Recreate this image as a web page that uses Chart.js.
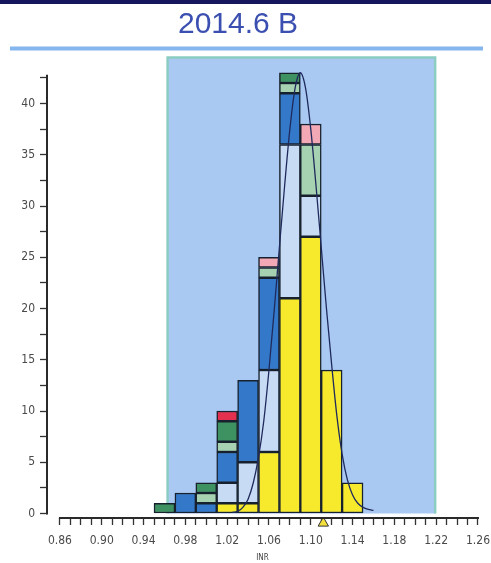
<!DOCTYPE html>
<html>
<head>
<meta charset="utf-8">
<title>2014.6 B</title>
<script src="https://cdn.jsdelivr.net/npm/chart.js@4.4.1/dist/chart.umd.min.js"></script>
<style>
  html, body { margin: 0; padding: 0; background: #ffffff; }
  #box { width: 491px; height: 563px; }
  canvas { display: block; }
</style>
</head>
<body>
<div id="box"><canvas id="chart" width="491" height="563"></canvas></div>
<script>
// ---------- data ----------
const chartTitle = '2014.6 B';
const xAxisTitle = 'INR';
const binCenters       = [0.96, 0.98, 1.00, 1.02, 1.04, 1.06, 1.08, 1.10, 1.12, 1.14];
const yellowCounts     = [0, 0, 0, 1, 1, 6, 21, 27, 14, 3];
const lightBlueCounts  = [0, 0, 0, 2, 4, 8, 15, 4, 0, 0];
const blueCounts       = [0, 2, 1, 3, 8, 9, 5, 0, 0, 0];
const lightGreenCounts = [0, 0, 1, 1, 0, 1, 1, 5, 0, 0];
const greenCounts      = [1, 0, 1, 2, 0, 0, 1, 0, 0, 0];
const pinkCounts       = [0, 0, 0, 0, 0, 1, 0, 2, 0, 0];
const redCounts        = [0, 0, 0, 1, 0, 0, 0, 0, 0, 0];
const curveX = [1.025, 1.030, 1.035, 1.040, 1.045, 1.050, 1.055, 1.060, 1.065, 1.070,
                1.075, 1.080, 1.085, 1.090, 1.095, 1.100, 1.105, 1.110, 1.115, 1.120,
                1.125, 1.130, 1.135, 1.140, 1.145, 1.150, 1.155, 1.160];
const curveY = [0.1, 0.2, 0.6, 1.4, 3.0, 5.5, 9.0, 14.0, 19.8, 26.0,
                32.0, 37.5, 41.5, 43.0, 41.5, 37.5, 32.0, 26.0, 20.0, 14.5,
                9.5, 5.8, 3.3, 1.8, 1.0, 0.6, 0.4, 0.3];
const referenceRange = [0.963, 1.219];
const meanMarker = [1.112];
const xTickLabels = ['0.86', '0.90', '0.94', '0.98', '1.02', '1.06', '1.10', '1.14', '1.18', '1.22', '1.26'];
const yTickLabels = ['0', '5', '10', '15', '20', '25', '30', '35', '40'];
const yAxisEnd = 42.8;

// ---------- helpers ----------
const xMajor = xTickLabels.map(Number);
const xTickValues = [];
for (let i = 0; i < xMajor.length; i++) {
  xTickValues.push(xMajor[i]);
  if (i < xMajor.length - 1) {
    const st = (xMajor[i + 1] - xMajor[i]) / 4;
    for (let k = 1; k < 4; k++) xTickValues.push(+(xMajor[i] + k * st).toFixed(4));
  }
}
const yTickValues = [];
yTickLabels.map(Number).forEach(v => {
  yTickValues.push(v);
  if (v + 2.5 <= yAxisEnd) yTickValues.push(v + 2.5);
});

const X_MIN = 0.8476, X_MAX = 1.26, Y_MIN = -0.439, Y_MAX = 44.49;
const tickFamily = "'Liberation Sans Narrow','DejaVu Sans Condensed','Liberation Sans',sans-serif";

function toPoints(counts) {
  return binCenters.map((c, i) => ({ x: c, y: counts[i] > 0 ? counts[i] : null }));
}
function barSet(label, counts, color) {
  return {
    type: 'bar', label, data: toPoints(counts), xAxisID: 'xb', yAxisID: 'y', stack: 'hist',
    backgroundColor: color, borderColor: '#17212d', borderWidth: 1.5, borderSkipped: false,
    barPercentage: 1, categoryPercentage: 1, grouped: false, order: 2
  };
}

const decorPlugin = {
  id: 'decor',
  beforeDraw(chart) {
    const { ctx, chartArea: ca, scales } = chart;
    const x = scales.x, y = scales.y;
    ctx.save();
    ctx.fillStyle = '#ffffff'; ctx.fillRect(0, 0, chart.width, chart.height);
    ctx.fillStyle = '#16165c'; ctx.fillRect(0, 0, chart.width, 4);
    ctx.fillStyle = '#86b6ee'; ctx.fillRect(10, 46.5, 473, 4);
    ctx.fillStyle = '#3b4fb0';
    ctx.font = "30px 'Liberation Sans', Arial, sans-serif";
    ctx.textAlign = 'center'; ctx.textBaseline = 'middle';
    ctx.fillText(chartTitle, 238, 25);
    const l = x.getPixelForValue(referenceRange[0]);
    const r = x.getPixelForValue(referenceRange[1]);
    const b = y.getPixelForValue(0);
    const t = ca.top;
    ctx.fillStyle = '#a9c9f3'; ctx.fillRect(l, t, r - l, b - t);
    ctx.strokeStyle = '#8ccdc2'; ctx.lineWidth = 2.5;
    ctx.beginPath(); ctx.moveTo(l, b); ctx.lineTo(l, t); ctx.lineTo(r, t); ctx.lineTo(r, b); ctx.stroke();
    ctx.restore();
  },
  afterDraw(chart) {
    const { ctx, chartArea: ca, scales } = chart;
    const x = scales.x, y = scales.y;
    ctx.save();
    ctx.strokeStyle = '#2a2a2a'; ctx.lineWidth = 2;
    ctx.beginPath();
    ctx.moveTo(ca.left, y.getPixelForValue(0) + 1);
    ctx.lineTo(ca.left, y.getPixelForValue(yAxisEnd));
    ctx.stroke();
    ctx.beginPath();
    ctx.moveTo(x.getPixelForValue(xMajor[0]) - 1, ca.bottom);
    ctx.lineTo(x.getPixelForValue(xMajor[xMajor.length - 1]) + 1, ca.bottom);
    ctx.stroke();
    ctx.restore();
  }
};

new Chart(document.getElementById('chart'), {
  data: {
    datasets: [
      barSet('yellow', yellowCounts, '#f7ea2c'),
      barSet('light blue', lightBlueCounts, '#c8dbf4'),
      barSet('blue', blueCounts, '#3479c9'),
      barSet('light green', lightGreenCounts, '#a6d2b1'),
      barSet('green', greenCounts, '#3e9262'),
      barSet('pink', pinkCounts, '#f3a8b6'),
      barSet('red', redCounts, '#e3304e'),
      {
        type: 'line', label: 'fit', xAxisID: 'x', yAxisID: 'y',
        data: curveX.map((v, i) => ({ x: v, y: curveY[i] })),
        borderColor: '#1f2a5c', borderWidth: 1.3, pointRadius: 0, fill: false,
        cubicInterpolationMode: 'monotone', order: 0
      },
      {
        type: 'scatter', label: 'mean', xAxisID: 'x', yAxisID: 'y',
        data: meanMarker.map(v => ({ x: v, y: Y_MIN - 0.5 })),
        pointStyle: 'triangle', pointRadius: 6, backgroundColor: '#f4e03c',
        borderColor: '#333333', borderWidth: 1, clip: false, order: 0
      }
    ]
  },
  options: {
    responsive: false, animation: false, devicePixelRatio: 1,
    layout: { padding: { left: 0, right: 11.5, top: 57.5, bottom: 0 } },
    plugins: { legend: { display: false }, tooltip: { enabled: false }, title: { display: false } },
    scales: {
      x: {
        type: 'linear', position: 'bottom', min: X_MIN, max: X_MAX, offset: false,
        afterBuildTicks: s => { s.ticks = xTickValues.map(v => ({ value: v })); },
        afterFit: s => { s.height = 45; },
        ticks: {
          autoSkip: false, maxRotation: 0, minRotation: 0, padding: 1, color: '#4a4a4a',
          font: { family: tickFamily, size: 12, lineHeight: 2.5 },
          callback: v => xTickLabels.find(l => Math.abs(Number(l) - v) < 1e-6) || ''
        },
        grid: { display: true, offset: false, drawOnChartArea: false, drawTicks: true, tickLength: 7, tickColor: '#333333', tickWidth: 1.3 },
        border: { display: false },
        title: { display: true, text: xAxisTitle, color: '#444444', font: { family: tickFamily, size: 8 }, padding: { top: 0, bottom: 0.5 } }
      },
      xb: {
        type: 'linear', position: 'bottom', display: false, min: X_MIN, max: X_MAX, stacked: true, offset: false,
        grid: { offset: false },
        afterBuildTicks: s => { s.ticks = binCenters.map(v => ({ value: v })); }
      },
      y: {
        type: 'linear', position: 'left', min: Y_MIN, max: Y_MAX, stacked: true,
        afterBuildTicks: s => { s.ticks = yTickValues.map(v => ({ value: v })); },
        afterFit: s => { s.width = 47; },
        ticks: {
          autoSkip: false, padding: 5, color: '#4a4a4a', font: { family: tickFamily, size: 12 },
          callback: v => (yTickLabels.includes(String(v)) ? String(v) : '')
        },
        grid: { display: true, drawOnChartArea: false, drawTicks: true, tickLength: 7, tickColor: '#333333', tickWidth: 1.3 },
        border: { display: false }
      }
    }
  },
  plugins: [decorPlugin]
});
</script>
</body>
</html>
